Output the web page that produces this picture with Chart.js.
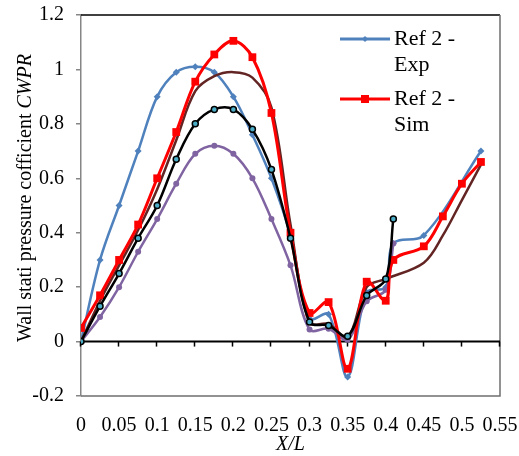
<!DOCTYPE html>
<html>
<head>
<meta charset="utf-8">
<script src="https://cdn.jsdelivr.net/npm/chart.js@4.4.0/dist/chart.umd.min.js"></script>
<style>
  html, body { margin: 0; padding: 0; background: #fff; }
  #wrap { width: 519px; height: 456px; position: relative; }
</style>
</head>
<body>
<div id="wrap"><canvas id="cwpr"></canvas></div>
<script>
// x/L stations
const xCommon = [0, 0.025, 0.05, 0.075, 0.1, 0.125, 0.15, 0.175, 0.2, 0.225, 0.25, 0.275, 0.3, 0.325, 0.35, 0.375, 0.4, 0.41];
const expX    = [...xCommon, 0.45, 0.525];
const simX    = [...xCommon, 0.45, 0.475, 0.5, 0.525];
const brownX  = [0, 0.025, 0.05, 0.075, 0.1, 0.125, 0.15, 0.175, 0.2, 0.225, 0.25, 0.275, 0.3, 0.325, 0.35, 0.375, 0.4, 0.45, 0.475, 0.5, 0.525];

// CWPR values
const expY    = [0, 0.30, 0.50, 0.70, 0.90, 0.99, 1.01, 0.99, 0.90, 0.76, 0.60, 0.39, 0.085, 0.10, -0.13, 0.18, 0.20, 0.36, 0.39, 0.70];
const simY    = [0.05, 0.17, 0.30, 0.43, 0.60, 0.77, 0.955, 1.055, 1.105, 1.045, 0.84, 0.40, 0.105, 0.145, -0.10, 0.22, 0.15, 0.30, 0.35, 0.46, 0.58, 0.66];
const brownY  = [0, 0.15, 0.28, 0.41, 0.56, 0.74, 0.92, 0.975, 0.99, 0.97, 0.86, 0.43, 0.07, 0.065, 0.015, 0.20, 0.23, 0.29, 0.39, 0.52, 0.65];
const purpleY = [0, 0.09, 0.20, 0.33, 0.45, 0.58, 0.69, 0.72, 0.69, 0.60, 0.45, 0.28, 0.044, 0.047, 0.007, 0.148, 0.19, 0.36];
const blackY  = [0, 0.13, 0.25, 0.38, 0.50, 0.67, 0.80, 0.853, 0.853, 0.78, 0.632, 0.38, 0.072, 0.059, 0.02, 0.169, 0.23, 0.45];

const xTicks = [0, 0.05, 0.1, 0.15, 0.2, 0.25, 0.3, 0.35, 0.4, 0.45, 0.5, 0.55];

const serif = "'Liberation Serif', 'Times New Roman', serif";
const fs = 20;
const pts = (xs, ys) => xs.map((x, i) => ({ x, y: ys[i] }));

const frame = {
  id: 'frame',
  beforeDatasetsDraw(chart) {
    const { ctx, chartArea: a, scales } = chart;
    const y0 = scales.y.getPixelForValue(0);
    ctx.save();
    // top / right / bottom edges
    ctx.lineWidth = 1.5;
    ctx.strokeStyle = '#000';
    ctx.beginPath(); ctx.moveTo(a.left, a.top); ctx.lineTo(a.right, a.top); ctx.stroke();
    ctx.strokeStyle = '#6f6f6f';
    ctx.beginPath(); ctx.moveTo(a.right, a.top); ctx.lineTo(a.right, a.bottom); ctx.lineTo(a.left, a.bottom); ctx.stroke();
    // horizontal axis crossing at 0
    ctx.strokeStyle = '#000';
    ctx.lineWidth = 2;
    ctx.beginPath(); ctx.moveTo(a.left, y0); ctx.lineTo(a.right, y0); ctx.stroke();
    ctx.lineWidth = 1.5;
    xTicks.forEach(v => {
      const px = Math.round(scales.x.getPixelForValue(v)) - 0.5;
      ctx.beginPath(); ctx.moveTo(px, y0); ctx.lineTo(px, y0 + 5); ctx.stroke();
    });
    ctx.restore();
  },
  afterDraw(chart) {
    const { ctx, chartArea: a } = chart;
    ctx.save();
    ctx.fillStyle = '#000';
    ctx.textBaseline = 'middle';

    // x title
    ctx.font = `italic ${fs}px ${serif}`;
    ctx.textAlign = 'center';
    ctx.fillText('X/L', (a.left + a.right) / 2, 445);

    // y title, mixed upright / italic
    const t1 = 'Wall stati pressure cofficient ', t2 = 'CWPR';
    ctx.font = `${fs}px ${serif}`;
    const w1 = ctx.measureText(t1).width;
    ctx.font = `italic ${fs}px ${serif}`;
    const w2 = ctx.measureText(t2).width;
    ctx.translate(26, 198);
    ctx.rotate(-Math.PI / 2);
    ctx.textAlign = 'left';
    ctx.font = `${fs}px ${serif}`;
    ctx.fillText(t1, -(w1 + w2) / 2, 0);
    ctx.font = `italic ${fs}px ${serif}`;
    ctx.fillText(t2, -(w1 + w2) / 2 + w1, 0);
    ctx.setTransform(1, 0, 0, 1, 0, 0);

    // legend (only the two visible entries)
    const items = [
      { c: '#4F81BD', lines: ['Ref 2 -', 'Exp'], y: 39, style: 'diamond' },
      { c: '#FF0000', lines: ['Ref 2 -', 'Sim'], y: 99, style: 'square' },
    ];
    items.forEach(it => {
      ctx.strokeStyle = it.c; ctx.fillStyle = it.c; ctx.lineWidth = 3;
      ctx.beginPath(); ctx.moveTo(340, it.y); ctx.lineTo(390, it.y); ctx.stroke();
      if (it.style === 'square') ctx.fillRect(361, it.y - 4, 8, 8);
      else { ctx.beginPath(); ctx.moveTo(365, it.y - 3); ctx.lineTo(368, it.y); ctx.lineTo(365, it.y + 3); ctx.lineTo(362, it.y); ctx.fill(); }
      ctx.fillStyle = '#000';
      ctx.font = `22px ${serif}`;
      ctx.textAlign = 'left';
      it.lines.forEach((l, i) => ctx.fillText(l, 394, it.y + i * 26));
    });
    ctx.restore();
  }
};

new Chart(document.getElementById('cwpr'), {
  type: 'scatter',
  data: {
    datasets: [
      { label: 'Ref 2 - Exp', data: pts(expX, expY), showLine: true, order: 4,
        borderColor: '#4F81BD', backgroundColor: '#4F81BD', borderWidth: 2.5, tension: 0.35,
        pointStyle: 'rectRot', pointRadius: 3.5, pointBorderWidth: 0 },
      { label: 'Ref 2 - Sim', data: pts(simX, simY), showLine: true, order: 1,
        borderColor: '#FF0000', backgroundColor: '#FF0000', borderWidth: 3, tension: 0.35,
        pointStyle: 'rect', pointRadius: 5.5, pointBorderWidth: 0 },
      { label: 'Sim A', data: pts(brownX, brownY), showLine: true, order: 3,
        borderColor: '#632523', backgroundColor: '#632523', borderWidth: 2.5, tension: 0.35,
        pointRadius: 0 },
      { label: 'Sim B', data: pts(xCommon, purpleY), showLine: true, order: 2,
        borderColor: '#8064A2', backgroundColor: '#8064A2', borderWidth: 2.5, tension: 0.35,
        pointStyle: 'circle', pointRadius: 3, pointBorderWidth: 0 },
      { label: 'Sim C', data: pts(xCommon, blackY), showLine: true, order: 0,
        borderColor: '#000', backgroundColor: '#4BACC6', borderWidth: 2.5, tension: 0.35,
        pointStyle: 'circle', pointRadius: 3, pointBorderColor: '#000', pointBorderWidth: 1.5 },
    ],
  },
  options: {
    responsive: true,
    maintainAspectRatio: false,
    animation: false,
    layout: { padding: { left: 0, right: 19, top: 15, bottom: 0 } },
    plugins: { legend: { display: false }, tooltip: { enabled: false } },
    scales: {
      x: {
        type: 'linear', position: 'bottom', min: 0, max: 0.55,
        afterFit: s => { s.height = 60; s.paddingLeft = 0; s.paddingRight = 0; },
        afterBuildTicks: s => { s.ticks = xTicks.map(v => ({ value: v })); },
        grid: { display: false }, border: { display: false },
        ticks: { autoSkip: false, maxRotation: 0, padding: 10, color: '#000',
          font: { family: serif, size: fs },
          callback: v => String(Math.round(v * 100) / 100) },
      },
      y: {
        min: -0.2, max: 1.2,
        afterFit: s => { s.width = 81; s.paddingTop = 0; s.paddingBottom = 0; },
        grid: { drawOnChartArea: false, drawTicks: true, tickLength: 5, color: '#868686', lineWidth: 1.5 },
        border: { display: true, color: '#868686', width: 1.5 },
        ticks: { stepSize: 0.2, padding: 12, color: '#000',
          font: { family: serif, size: fs },
          callback: v => String(Math.round(v * 10) / 10) },
      },
    },
  },
  plugins: [frame],
});
</script>
</body>
</html>
